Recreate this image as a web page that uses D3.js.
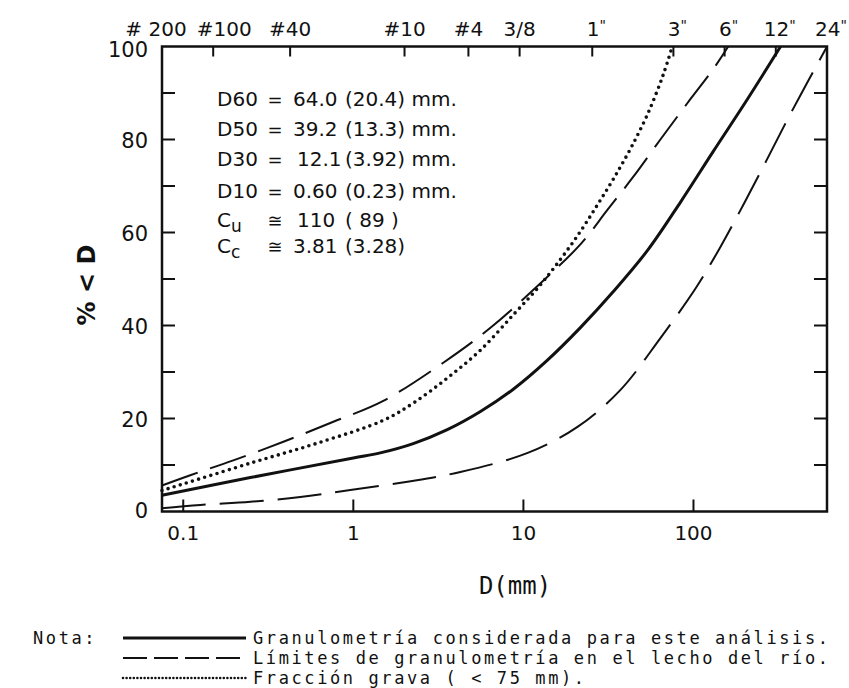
<!DOCTYPE html>
<html><head><meta charset="utf-8">
<script src="https://cdn.jsdelivr.net/npm/d3@7"></script>
<style>body{margin:0;background:#fff}</style>
</head><body>
<svg id="c" width="849" height="688"></svg>
<script>
// ---- data ----
const mainD  = [0.075, 0.248, 1, 1.44, 2.25, 3.57, 5.59, 8.72, 13.8, 21.7, 33.8, 53.8, 84.1, 131, 207, 325];
const mainP  = [3.5, 7.3, 11.5, 12.6, 14.6, 17.6, 21.5, 26.3, 32.5, 39.6, 47.3, 56.2, 66.6, 77.5, 88.6, 100];
const upperD = [0.075, 0.11, 0.197, 0.388, 0.763, 1.5, 3.38, 6.4, 12.1, 21.7, 31.1, 44.3, 63.9, 92, 131, 160];
const upperP = [5.6, 7.8, 11, 15, 19.3, 23.8, 32, 39.5, 48.5, 57.5, 64.8, 72, 80, 87.8, 95.2, 100];
const lowerD = [0.075, 0.126, 0.248, 0.488, 0.96, 2.08, 4.26, 10.6, 20.8, 37.1, 63.9, 103, 144, 226, 357, 466, 610];
const lowerP = [0.7, 1.4, 2.1, 3.1, 4.6, 6.4, 8.5, 12.6, 18.2, 26.1, 37.3, 48, 56.9, 70.2, 84.3, 92.2, 100];
const gravelD = [0.075, 0.248, 0.614, 1.5, 2.25, 3.57, 5.59, 8.72, 12.1, 16.5, 21.7, 27.3, 33.8, 42.6, 53.8, 66.5, 75];
const gravelP = [4.5, 10.4, 14.7, 19.6, 23.3, 28.7, 34.7, 42.3, 48, 54.2, 60.3, 66, 71.5, 78, 85.5, 94, 100];

const sieveSizes  = [0.075, 0.15, 0.425, 2.0, 4.75, 9.5, 25.4, 76.2, 152.4, 304.8, 609.6];
const sieveLabels = ["# 200", "#100", "#40", "#10", "#4", "3/8", "1", "3", "6", "12", "24"];
const sieveInch   = [false, false, false, false, false, false, true, true, true, true, true];
const bottomTicks = [0.1, 1, 10, 100];
const bottomLabels = ["0.1", "1", "10", "100"];
const yTicks = [0, 20, 40, 60, 80, 100];
const yMinor = [10, 20, 30, 40, 50, 60, 70, 80, 90];

const statLabels = ["D60", "D50", "D30", "D10", "C", "C"];
const statSubs   = ["", "", "", "", "u", "c"];
const statOps    = ["=", "=", "=", "=", "≅", "≅"];
const statVals   = ["64.0", "39.2", "12.1", "0.60", "110", "3.81"];
const statParen  = ["(20.4) mm.", "(13.3) mm.", "(3.92) mm.", "(0.23) mm.", "( 89 )", "(3.28)"];

const legendTexts = ["Granulometría considerada para este análisis.",
                     "Límites de granulometría en el lecho del río.",
                     "Fracción grava ( < 75 mm)."];

// ---- chart ----
const svg = d3.select("#c");
const L = 162, R = 827, T = 46.5, B = 511.5;
const x = d3.scaleLog().domain([0.075, 609.6]).range([L, R]);
const y = d3.scaleLinear().domain([0, 100]).range([B, T]);
const font = "'DejaVu Sans', sans-serif";
const mono = "'DejaVu Sans Mono', monospace";

const line = d3.line().x(d => x(d[0])).y(d => y(d[1])).curve(d3.curveCatmullRom.alpha(0.5));
const zip = (a, b) => a.map((v, i) => [v, b[i]]);

const g = svg.append("g");

// curves
g.append("path").attr("d", line(zip(lowerD, lowerP))).attr("fill", "none")
  .attr("stroke", "#111").attr("stroke-width", 2).attr("stroke-dasharray", "44,14");
g.append("path").attr("d", line(zip(upperD, upperP))).attr("fill", "none")
  .attr("stroke", "#111").attr("stroke-width", 2).attr("stroke-dasharray", "38,13");
g.append("path").attr("d", line(zip(gravelD, gravelP))).attr("fill", "none")
  .attr("stroke", "#111").attr("stroke-width", 3.6).attr("stroke-linecap", "round")
  .attr("stroke-dasharray", "0,6.4");
g.append("path").attr("d", line(zip(mainD, mainP))).attr("fill", "none")
  .attr("stroke", "#111").attr("stroke-width", 3);

// frame
svg.append("rect").attr("x", L).attr("y", T).attr("width", R - L).attr("height", B - T)
  .attr("fill", "none").attr("stroke", "#111").attr("stroke-width", 2.5);

// y ticks (left & right, inward)
yMinor.forEach(v => {
  svg.append("line").attr("x1", L).attr("x2", L + 13).attr("y1", y(v)).attr("y2", y(v))
    .attr("stroke", "#111").attr("stroke-width", 2);
  svg.append("line").attr("x1", R).attr("x2", R - 13).attr("y1", y(v)).attr("y2", y(v))
    .attr("stroke", "#111").attr("stroke-width", 2);
});
yTicks.forEach(v => {
  svg.append("text").attr("x", 148).attr("y", y(v) + 8 + (v === 100 ? 2 : 0) - (v === 0 ? 2 : 0))
    .attr("text-anchor", "end").attr("font-family", font).attr("font-size", 21)
    .attr("fill", "#111").text(v);
});

// bottom ticks
bottomTicks.forEach((v, i) => {
  svg.append("line").attr("x1", x(v)).attr("x2", x(v)).attr("y1", B).attr("y2", B - 12)
    .attr("stroke", "#111").attr("stroke-width", 2);
  svg.append("text").attr("x", x(v)).attr("y", 540).attr("text-anchor", "middle")
    .attr("font-family", font).attr("font-size", 20).attr("fill", "#111").text(bottomLabels[i]);
});

// top ticks & labels
sieveSizes.forEach((v, i) => {
  if (i > 0 && i < sieveSizes.length - 1)
    svg.append("line").attr("x1", x(v)).attr("x2", x(v)).attr("y1", T).attr("y2", T + 10)
      .attr("stroke", "#111").attr("stroke-width", 2);
  const t = svg.append("text").attr("x", x(v) + (i === 1 ? 11 : 0) + (sieveInch[i] ? 4 : 0) - (i === 0 ? 6 : 0))
    .attr("y", 36).attr("text-anchor", "middle")
    .attr("font-family", font).attr("font-size", 20).attr("fill", "#111");
  t.append("tspan").text(sieveLabels[i]);
  if (sieveInch[i]) t.append("tspan").attr("font-size", 14).attr("dy", -6).text('"');
});

// axis titles
svg.append("text").attr("transform", "translate(95,285) rotate(-90)")
  .attr("text-anchor", "middle").attr("font-family", font).attr("font-size", 24)
  .attr("font-weight", "bold").attr("fill", "#111").text("% < D");
svg.append("text").attr("x", 515).attr("y", 594).attr("text-anchor", "middle")
  .attr("font-family", mono).attr("font-size", 24).attr("fill", "#111").text("D(mm)");

// stats block
const rowY = [106, 136, 166, 198, 227, 253];
statLabels.forEach((s, i) => {
  const t = svg.append("text").attr("x", 217).attr("y", rowY[i])
    .attr("font-family", font).attr("font-size", 20).attr("fill", "#111");
  t.append("tspan").text(s);
  if (statSubs[i]) t.append("tspan").attr("dy", 5).attr("font-size", 17).text(statSubs[i]);
  svg.append("text").attr("x", 275).attr("y", rowY[i]).attr("text-anchor", "middle")
    .attr("font-family", font).attr("font-size", 18).attr("fill", "#111").text(statOps[i]);
  svg.append("text").attr("x", 293 + (i === 2 ? 4 : 0) + (i === 4 ? 4 : 0)).attr("y", rowY[i])
    .attr("font-family", font).attr("font-size", 20).attr("fill", "#111").text(statVals[i]);
  svg.append("text").attr("x", 345).attr("y", rowY[i]).attr("xml:space", "preserve")
    .attr("font-family", font).attr("font-size", 20).attr("fill", "#111").text(statParen[i]);
});

// legend
const legY = [638, 658, 678];
svg.append("text").attr("x", 33).attr("y", legY[0] + 6).attr("font-family", mono)
  .attr("font-size", 17).attr("letter-spacing", 2.6).attr("fill", "#111").text("Nota:");
const legStyles = [{w: 3, dash: null}, {w: 1.8, dash: "24,7"}, {w: 2.6, dash: "0,3.6", cap: "round"}];
legendTexts.forEach((s, i) => {
  const st = legStyles[i];
  const ln = svg.append("line").attr("x1", 123).attr("x2", 246).attr("y1", legY[i]).attr("y2", legY[i])
    .attr("stroke", "#111").attr("stroke-width", st.w);
  if (st.dash) ln.attr("stroke-dasharray", st.dash);
  if (st.cap) ln.attr("stroke-linecap", st.cap);
  svg.append("text").attr("x", 253).attr("y", legY[i] + 6).attr("font-family", mono)
    .attr("font-size", 17).attr("letter-spacing", 2.6).attr("fill", "#111").text(s);
});
</script>
</body></html>
